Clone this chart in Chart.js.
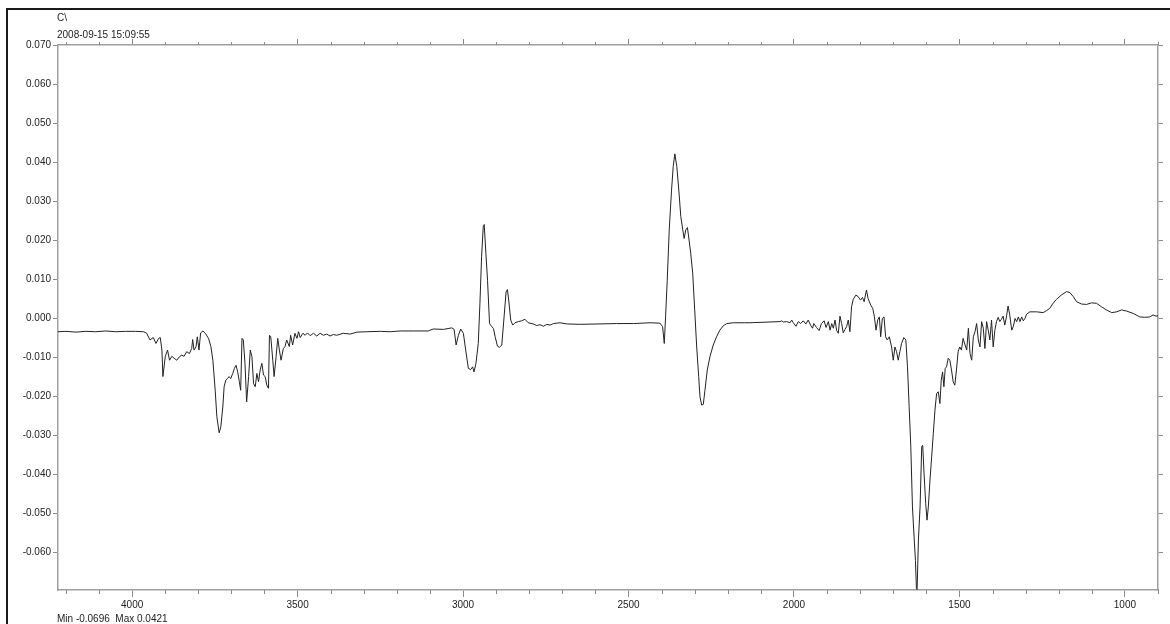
<!DOCTYPE html>
<html><head><meta charset="utf-8">
<script src="https://cdn.jsdelivr.net/npm/chart.js@4.4.1/dist/chart.umd.min.js"></script>
<style>html,body{margin:0;padding:0;background:#fff}canvas{display:block}</style>
</head><body>
<canvas id="c" width="1170" height="624"></canvas>
<script>
const wavenumbers = [
4224,4200,4170,4140,4110,4080,4050,4020,3990,3965,3956,3946,3936,3928,3920,3915,3910,3907,3900,3893,
3887,3880,3873,3865,3857,3850,3843,3835,3827,3820,3817,3813,3807,3803,3798,3793,3786,3779,3769,3762,
3756,3749,3744,3737,3732,3726,3722,3717,3712,3707,3702,3696,3691,3686,3681,3676,3672,3668,3664,3659,
3654,3648,3643,3638,3633,3628,3623,3618,3613,3608,3603,3598,3593,3588,3585,3581,3575,3571,3565,3560,
3555,3550,3543,3538,3533,3525,3521,3515,3508,3502,3497,3492,3484,3477,3470,3462,3452,3442,3432,3422,
3412,3402,3392,3382,3362,3341,3321,3291,3250,3220,
3190,3150,3105,3100,3090,3059,3034,3027,3021,3014,3007,2999,2992,2984,2977,2971,2967,2961,2954,2949,
2944,2939,2936,2931,2926,2920,2913,2908,2903,2896,2890,2883,2876,2870,2866,2862,2856,2850,2843,2833,
2823,2813,2803,2788,2778,2767,2757,2747,2737,2727,2707,2687,2647,2586,2536,2485,2435,2405,2397,2392,
2388,2383,2377,2370,2365,2360,2354,2348,2342,2336,2332,2327,2322,2317,2312,2306,2300,2294,2288,2284,
2279,2274,2269,2262,2254,2244,2234,2224,2214,2203,2183,2150,
2133,2042,2037,2032,2022,2012,2007,2002,1994,1987,1980,1972,1964,1957,1950,1944,1940,1932,1924,1917,
1909,1903,1896,1891,1886,1881,1876,1871,1866,1861,1856,1851,1846,1841,1836,1831,1826,1821,1813,1806,
1799,1793,1788,1781,1776,1768,1762,1757,1752,1747,1742,1738,1733,1728,1723,1718,1712,1705,1700,1695,
1690,1685,1680,1675,1668,1662,1657,1652,1647,1642,1637,1633,1630,1628,1624,1619,1614,1611,1607,1602,
1598,1594,1589,1584,1579,1574,1569,1564,1559,1555,1551,1547,1543,1539,1534,1529,1524,1519,1514,1509,
1504,1499,1494,1489,1483,1478,1473,1468,1463,1458,1453,1448,1443,1438,1433,1428,1423,1418,1413,1408,
1403,1398,1393,1388,1383,1378,1373,1368,1363,1358,1353,1348,1342,1337,1332,1327,1322,1317,1312,1307,
1302,1297,1287,1267,1247,1237,1227,1217,1207,1192,1176,1166,1156,1146,1131,1116,1101,1086,1071,1056,
1040,1025,1010,995,975,955,940,925,915,906,900
];
const absorbance = [
-0.0035,-0.0034,-0.0036,-0.0034,-0.0035,-0.0033,-0.0035,-0.0034,-0.0034,-0.0035,-0.0039,-0.0056,-0.0050,-0.0065,-0.0052,-0.0050,-0.0082,-0.0150,-0.0099,-0.0082,
-0.0108,-0.0098,-0.0103,-0.0108,-0.0099,-0.0095,-0.0098,-0.0086,-0.0091,-0.0078,-0.0055,-0.0082,-0.0074,-0.0048,-0.0082,-0.0038,-0.0033,-0.0039,-0.0052,-0.0073,
-0.0108,-0.0185,-0.0253,-0.0294,-0.0279,-0.0228,-0.0176,-0.0159,-0.0155,-0.0150,-0.0155,-0.0142,-0.0129,-0.0121,-0.0138,-0.0163,-0.0185,-0.0052,-0.0056,-0.0116,
-0.0215,-0.0150,-0.0082,-0.0099,-0.0168,-0.0176,-0.0142,-0.0163,-0.0133,-0.0116,-0.0146,-0.0150,-0.0172,-0.0180,-0.0044,-0.0048,-0.0108,-0.0150,-0.0099,-0.0052,
-0.0082,-0.0108,-0.0078,-0.0073,-0.0056,-0.0073,-0.0044,-0.0069,-0.0039,-0.0052,-0.0035,-0.0050,-0.0039,-0.0044,-0.0038,-0.0045,-0.0039,-0.0046,-0.0039,-0.0044,
-0.0041,-0.0046,-0.0042,-0.0044,-0.0039,-0.0041,-0.0036,-0.0035,-0.0034,-0.0035,
-0.0033,-0.0033,-0.0033,-0.0031,-0.0028,-0.0029,-0.0025,-0.0029,-0.0069,-0.0044,-0.0028,-0.0039,-0.0082,-0.0129,-0.0132,-0.0125,-0.0138,-0.0116,-0.0065,0.0038,
0.0157,0.0234,0.0240,0.0166,0.0097,-0.0014,-0.0022,-0.0027,-0.0048,-0.0072,-0.0075,-0.0069,0.0003,0.0067,0.0073,0.0046,-0.0005,-0.0018,-0.0012,-0.0009,
-0.0007,-0.0003,-0.0012,-0.0015,-0.0019,-0.0017,-0.0021,-0.0016,-0.0018,-0.0014,-0.0012,-0.0015,-0.0016,-0.0015,-0.0014,-0.0014,-0.0012,-0.0013,-0.0022,-0.0065,
0.0003,0.0097,0.0226,0.0328,0.0388,0.0421,0.0388,0.0328,0.0260,0.0226,0.0204,0.0226,0.0232,0.0200,0.0166,0.0115,0.0021,-0.0074,-0.0150,-0.0202,
-0.0223,-0.0221,-0.0185,-0.0133,-0.0099,-0.0069,-0.0048,-0.0031,-0.0020,-0.0014,-0.0012,-0.0012,
-0.0012,-0.0009,-0.0007,-0.0010,-0.0009,-0.0012,-0.0005,-0.0012,-0.0021,-0.0009,-0.0014,-0.0007,-0.0015,-0.0005,-0.0018,-0.0026,-0.0014,-0.0024,-0.0032,-0.0014,
-0.0007,-0.0024,-0.0009,-0.0031,-0.0014,-0.0026,-0.0005,-0.0032,-0.0039,0.0005,-0.0014,-0.0038,-0.0029,-0.0022,-0.0005,-0.0035,0.0029,0.0048,0.0059,0.0055,
0.0046,0.0053,0.0042,0.0072,0.0050,0.0033,0.0025,0.0003,-0.0031,-0.0005,0.0003,-0.0048,-0.0001,0.0003,-0.0048,-0.0056,-0.0048,-0.0074,-0.0108,-0.0074,
-0.0086,-0.0108,-0.0086,-0.0065,-0.0050,-0.0056,-0.0125,-0.0227,-0.0330,-0.0484,-0.0561,-0.0621,-0.0693,-0.0696,-0.0569,-0.0484,-0.0330,-0.0326,-0.0398,-0.0475,
-0.0518,-0.0484,-0.0415,-0.0356,-0.0296,-0.0236,-0.0193,-0.0189,-0.0219,-0.0159,-0.0138,-0.0176,-0.0129,-0.0125,-0.0103,-0.0108,-0.0133,-0.0163,-0.0172,-0.0133,
-0.0086,-0.0074,-0.0082,-0.0052,-0.0069,-0.0082,-0.0026,-0.0091,-0.0108,-0.0048,-0.0035,-0.0014,-0.0056,-0.0074,-0.0009,-0.0026,-0.0078,-0.0009,-0.0031,-0.0056,
-0.0005,-0.0074,-0.0031,-0.0009,0.0002,-0.0009,-0.0003,0.0005,-0.0018,0.0003,0.0031,0.0008,-0.0031,-0.0021,-0.0001,-0.0009,0.0003,-0.0009,0.0003,-0.0007,
-0.0001,0.0010,0.0016,0.0016,0.0014,0.0019,0.0025,0.0038,0.0048,0.0059,0.0068,0.0065,0.0055,0.0042,0.0036,0.0035,0.0039,0.0038,0.0029,0.0021,
0.0014,0.0016,0.0021,0.0018,0.0012,0.0003,0.0002,0.0003,0.0008,0.0005,0.0006
];
const xTickLabels = ['4000','3500','3000','2500','2000','1500','1000'];
const yTickLabels = ['0.070','0.060','0.050','0.040','0.030','0.020','0.010','0.000','-0.010','-0.020','-0.030','-0.040','-0.050','-0.060'];
const fileLabel = 'C\\';
const dateLabel = '2008-09-15 15:09:55';
const minMaxLabel = 'Min -0.0696  Max 0.0421';

const X_MIN = 900, X_MAX = 4224, Y_MIN = -0.0697, Y_MAX = 0.070;
const FONT = '"Liberation Sans", Arial, sans-serif';
const AXIS = '#a0a0a0';
const TICK = '#8a8a8a';

const points = wavenumbers.map((w, i) => ({x: w, y: absorbance[i]}));

function isMajor(v) { return xTickLabels.includes(String(Math.round(v))); }
function yLabel(v) { if (Math.abs(v) < 1e-9) v = 0; const s = v.toFixed(3); return yTickLabels.includes(s) ? s : ''; }

const decor = {
  id: 'decor',
  afterDraw(chart) {
    const c = chart.ctx;
    c.save();
    // minor ticks on x axes
    c.strokeStyle = TICK; c.lineWidth = 1;
    const xb = chart.scales.x, xt = chart.scales.xTop;
    const bottom = chart.chartArea.bottom, top = chart.chartArea.top;
    c.beginPath();
    xb.ticks.forEach(t => {
      if (isMajor(t.value)) return;
      const p = Math.round(xb.getPixelForValue(t.value)) + 0.5;
      c.moveTo(p, bottom); c.lineTo(p, bottom + 4);
    });
    xt.ticks.forEach(t => {
      if (isMajor(t.value)) return;
      const p = Math.round(xt.getPixelForValue(t.value)) + 0.5;
      c.moveTo(p, top); c.lineTo(p, top - 3);
    });
    c.stroke();
    // texts
    c.fillStyle = '#222';
    c.font = '10px ' + FONT;
    c.textBaseline = 'middle'; c.textAlign = 'left';
    c.fillText(fileLabel, 57, 18);
    c.fillText(dateLabel, 57, 35);
    c.fillText(minMaxLabel, 57, 619);
    // frame
    c.strokeStyle = '#1a1a1a'; c.lineWidth = 2;
    c.beginPath(); c.moveTo(7, 624); c.lineTo(7, 9); c.lineTo(1170, 9); c.stroke();
    c.restore();
  }
};

new Chart(document.getElementById('c'), {
  type: 'line',
  data: { datasets: [{
    data: points,
    borderColor: '#222',
    borderWidth: 1,
    pointRadius: 0,
    tension: 0,
    fill: false
  }]},
  options: {
    responsive: false,
    animation: false,
    devicePixelRatio: 1,
    layout: { padding: 0 },
    plugins: { legend: { display: false }, tooltip: { enabled: false }, title: { display: false } },
    scales: {
      x: {
        type: 'linear', position: 'bottom', reverse: true, min: X_MIN, max: X_MAX,
        afterFit: s => { s.height = 34; },
        border: { display: true, color: AXIS, width: 1.5 },
        grid: { drawOnChartArea: false, drawTicks: true, tickLength: 7,
                tickColor: ctx => (ctx.tick && isMajor(ctx.tick.value)) ? TICK : 'rgba(0,0,0,0)' },
        ticks: { stepSize: 100, includeBounds: false, autoSkip: false, maxRotation: 0, padding: 2,
                 color: '#222', font: { family: FONT, size: 10 },
                 callback: v => isMajor(v) ? String(Math.round(v)) : '' }
      },
      xTop: {
        type: 'linear', position: 'top', reverse: true, min: X_MIN, max: X_MAX,
        afterFit: s => { s.height = 45; },
        border: { display: true, color: AXIS, width: 1.5 },
        grid: { drawOnChartArea: false, drawTicks: true, tickLength: 6,
                tickColor: ctx => (ctx.tick && isMajor(ctx.tick.value)) ? TICK : 'rgba(0,0,0,0)' },
        ticks: { display: false, stepSize: 100, includeBounds: false, autoSkip: false }
      },
      y: {
        type: 'linear', position: 'left', min: Y_MIN, max: Y_MAX,
        afterFit: s => { s.width = 58; },
        border: { display: true, color: AXIS, width: 1.5 },
        grid: { drawOnChartArea: false, drawTicks: true, tickLength: 5, tickColor: TICK },
        ticks: { stepSize: 0.01, includeBounds: false, autoSkip: false, padding: 2,
                 color: '#222', font: { family: FONT, size: 10 }, callback: v => yLabel(v) }
      },
      yRight: {
        type: 'linear', position: 'right', min: Y_MIN, max: Y_MAX,
        afterFit: s => { s.width = 12; },
        border: { display: true, color: AXIS, width: 1.5 },
        grid: { drawOnChartArea: false, drawTicks: true, tickLength: 5, tickColor: TICK },
        ticks: { display: false, stepSize: 0.01, includeBounds: false, autoSkip: false }
      }
    }
  },
  plugins: [decor]
});
</script>
</body></html>
